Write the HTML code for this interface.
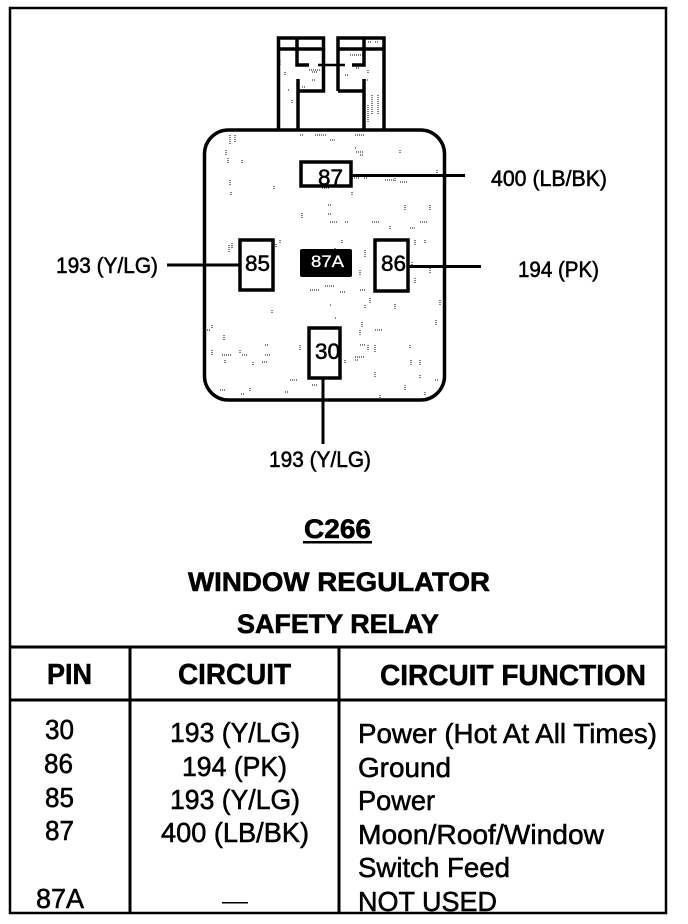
<!DOCTYPE html>
<html>
<head>
<meta charset="utf-8">
<style>
html,body{margin:0;padding:0;background:#fff;width:688px;height:924px;overflow:hidden}
svg{display:block}
text{font-family:"Liberation Sans",sans-serif;fill:#000;stroke:#000;stroke-width:.55}
.b{font-weight:bold;stroke-width:.6}
.l{font-size:22px}
.r{font-size:28px}
.h{font-size:29px;font-weight:bold;stroke-width:.5}
</style>
</head>
<body>
<svg width="688" height="924" viewBox="0 0 688 924" xmlns="http://www.w3.org/2000/svg">
<!-- frame -->
<rect x="10" y="8" width="656" height="905" fill="none" stroke="#000" stroke-width="2.500"/>

<!-- speckle -->
<path fill="none" stroke="#000" stroke-width="1" stroke-dasharray="1 1" d="
M230 135v10M235 135v8M226 150v6M228 158v5M242 160v4M230 180v6M231 192v3M274 186v3M315 135h12M355 135h10M356 152h8M360 155h4M355 148h2
M352 178h8M364 178h4M385 180h10M395 178v3M400 182h8M322 188h8M352 192v3M328 205h4M328 214h4M302 213v5M405 205v5M437 170v8M430 205v5
M229 245v8M232 243v5M280 240v4M267 262v4M276 244v4M330 222h8M345 222h4M372 222h8M390 226v4M410 228h6M420 222h8M415 240v6M412 262v5M425 240v4M430 268v6M415 278v5
M310 290h10M325 286h10M340 292h6M360 270v6M365 250v8M360 290h6M370 298v5M395 304v5M365 305v3M330 305h2M335 318h2M362 322v5M360 345h6M375 330h8M355 360h3M368 345v5M375 345v8M410 345v3M411 360v5M420 360v6M355 357h10
M222 355h6M228 355h3M240 350v3M265 355h6M265 345h4M225 360v4M212 350v6M242 355h6M262 362h6M253 362v4M300 345v5M345 360v3M312 385h5M290 380h8M285 392h4M220 390h5M250 388v4M241 394h4M375 372v5M380 395v4M405 385v5M420 375v4M425 392v4M435 380h3
M300 135h4M335 248v3M342 240v4M272 310v4M224 335v5M212 325v3M360 330v5M330 140h6M400 150v4M440 300v6M436 320v5M207 330h4
M280 60v6M285 72v3M288 90h2M292 100v4M309 70h12M312 80h4M316 72h2M312 72h4M302 87h4M350 55h14M375 42h3M368 42h3M365 80h4M372 95v20M378 95v20M368 105v18M368 70v3M345 90h10M356 68h3M345 75h3"/>

<!-- terminals -->
<g fill="none" stroke="#000" stroke-width="3.500">
<path d="M278.500 130V38H323.500V91H299M278.500 49H323.500M297 38V65H309M298 79V130"/>
<path d="M338 91V38H384V130M338 49H384M364 38V65H352M364 79V130M338 91H364"/>
<path d="M318 65H345" stroke-width="2.500"/>
</g>

<!-- relay body -->
<rect x="204.500" y="130" width="240" height="270" rx="24" ry="24" fill="none" stroke="#000" stroke-width="3.500"/>

<!-- connectors -->
<g stroke="#000" stroke-width="3" fill="none">
<path d="M351 175.500H465"/>
<path d="M167 265H240"/>
<path d="M407 266.500H481"/>
<path d="M323 378V444"/>
</g>

<!-- pins -->
<g fill="#fff" stroke="#000" stroke-width="3.500">
<rect x="301" y="162" width="50" height="24"/>
<rect x="240" y="240" width="33" height="50"/>
<rect x="375" y="240" width="33" height="51"/>
<rect x="309" y="328" width="31" height="50"/>
</g>
<rect x="300" y="249" width="52" height="28" rx="2" fill="#000"/>
<path d="M407 266.500H415" stroke="#000" stroke-width="3"/>

<text class="l" x="318" y="185" textLength="25" lengthAdjust="spacingAndGlyphs">87</text>
<text class="l" x="245" y="271" textLength="25" lengthAdjust="spacingAndGlyphs">85</text>
<text class="l" x="381" y="271" textLength="25" lengthAdjust="spacingAndGlyphs">86</text>
<text class="l" x="315" y="359" textLength="25" lengthAdjust="spacingAndGlyphs">30</text>
<text x="311" y="267" font-size="17" style="fill:#fff;stroke:#fff;stroke-width:.3" textLength="33" lengthAdjust="spacingAndGlyphs">87A</text>

<!-- diagram labels -->
<text class="l" x="491" y="186" textLength="116" lengthAdjust="spacingAndGlyphs">400 (LB/BK)</text>
<text class="l" x="56" y="273" textLength="102" lengthAdjust="spacingAndGlyphs">193 (Y/LG)</text>
<text class="l" x="518" y="277" textLength="81" lengthAdjust="spacingAndGlyphs">194 (PK)</text>
<text class="l" x="269" y="467" textLength="102" lengthAdjust="spacingAndGlyphs">193 (Y/LG)</text>

<!-- titles -->
<text class="b" x="304" y="538" font-size="27" textLength="67" lengthAdjust="spacingAndGlyphs">C266</text>
<rect x="303" y="541" width="69" height="2.500" fill="#000"/>
<text class="b" x="188" y="591" font-size="27" textLength="302" lengthAdjust="spacingAndGlyphs">WINDOW REGULATOR</text>
<text class="b" x="237" y="633" font-size="27" textLength="202" lengthAdjust="spacingAndGlyphs">SAFETY RELAY</text>

<!-- table -->
<g stroke="#000" fill="none" stroke-width="3">
<path d="M10 647H666"/>
<path d="M10 700H666"/>
<path d="M130 647V913M339 647V913"/>
</g>

<text class="h" x="47" y="684" textLength="45" lengthAdjust="spacingAndGlyphs">PIN</text>
<text class="h" x="178" y="684" textLength="113" lengthAdjust="spacingAndGlyphs">CIRCUIT</text>
<text class="h" x="380" y="685" textLength="266" lengthAdjust="spacingAndGlyphs">CIRCUIT FUNCTION</text>

<text class="r" x="45" y="739" textLength="29" lengthAdjust="spacingAndGlyphs">30</text>
<text class="r" x="44" y="773" textLength="29" lengthAdjust="spacingAndGlyphs">86</text>
<text class="r" x="45" y="807" textLength="29" lengthAdjust="spacingAndGlyphs">85</text>
<text class="r" x="45" y="840" textLength="29" lengthAdjust="spacingAndGlyphs">87</text>
<text class="r" x="36" y="908" textLength="48" lengthAdjust="spacingAndGlyphs">87A</text>

<text class="r" x="170" y="742" textLength="130" lengthAdjust="spacingAndGlyphs">193 (Y/LG)</text>
<text class="r" x="182" y="776" textLength="105" lengthAdjust="spacingAndGlyphs">194 (PK)</text>
<text class="r" x="170" y="809" textLength="130" lengthAdjust="spacingAndGlyphs">193 (Y/LG)</text>
<text class="r" x="161" y="842" textLength="148" lengthAdjust="spacingAndGlyphs">400 (LB/BK)</text>
<rect x="222" y="902" width="26" height="1.500" fill="#000"/>

<text class="r" x="358" y="743" textLength="299" lengthAdjust="spacingAndGlyphs">Power (Hot At All Times)</text>
<text class="r" x="358" y="777" textLength="93" lengthAdjust="spacingAndGlyphs">Ground</text>
<text class="r" x="358" y="810" textLength="77" lengthAdjust="spacingAndGlyphs">Power</text>
<text class="r" x="358" y="844" textLength="246" lengthAdjust="spacingAndGlyphs">Moon/Roof/Window</text>
<text class="r" x="358" y="877" textLength="152" lengthAdjust="spacingAndGlyphs">Switch Feed</text>
<text class="r" x="358" y="911" textLength="139" lengthAdjust="spacingAndGlyphs">NOT USED</text>
</svg>
</body>
</html>
